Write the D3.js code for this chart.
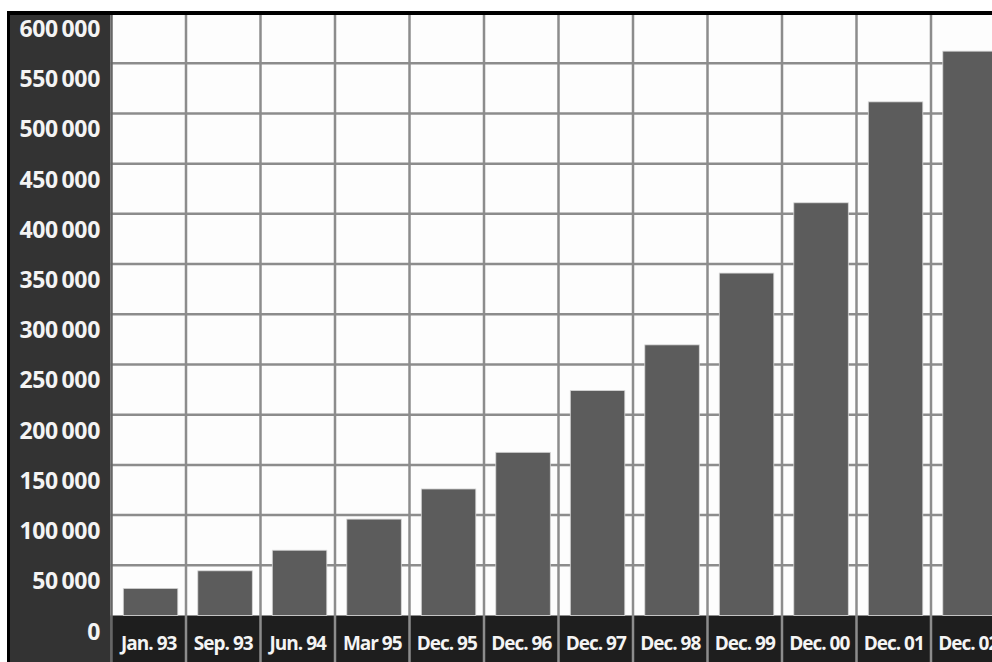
<!DOCTYPE html>
<html>
<head>
<meta charset="utf-8">
<script src="https://cdn.jsdelivr.net/npm/d3@7"></script>
<style>
  html, body { margin: 0; padding: 0; background: #fff; overflow: hidden; }
  svg { display: block; }
  .tick-label { font-family: "Open Sans", "DejaVu Sans Condensed", sans-serif; font-weight: 700; fill: #f4f4f4; }
</style>
</head>
<body>
<div id="chart"></div>
<script>
// Data
const categories = ["Jan. 93", "Sep. 93", "Jun. 94", "Mar 95", "Dec. 95", "Dec. 96",
                    "Dec. 97", "Dec. 98", "Dec. 99", "Dec. 00", "Dec. 01", "Dec. 02"];
const values = [27000, 44500, 65000, 96000, 126000, 162500,
                224000, 269500, 341000, 411000, 511500, 562000];
const yTicks = [0, 50000, 100000, 150000, 200000, 250000, 300000,
                350000, 400000, 450000, 500000, 550000, 600000];
const yTickLabels = ["0", "50\u2009000", "100\u2009000", "150\u2009000", "200\u2009000",
                     "250\u2009000", "300\u2009000", "350\u2009000", "400\u2009000",
                     "450\u2009000", "500\u2009000", "550\u2009000", "600\u2009000"];

const width = 992, height = 662;
const plotLeft = 110.5, bandW = 74.5;
const plotTop = 13, plotBottom = 615.5;

const svg = d3.select("#chart")
  .append("svg")
  .attr("width", width)
  .attr("height", height);

// scales
const xScale = d3.scaleBand()
  .domain(categories)
  .range([plotLeft, plotLeft + bandW * categories.length])
  .paddingInner(0).paddingOuter(0);

const yScale = d3.scaleLinear()
  .domain([0, 600000])
  .range([plotBottom, plotTop]);

// frame: left panel, plot area, bottom label band
svg.append("rect").attr("x", 10).attr("y", 15).attr("width", plotLeft - 10).attr("height", height - 15).attr("fill", "#333333");
svg.append("rect").attr("x", plotLeft).attr("y", 15).attr("width", width - plotLeft).attr("height", plotBottom - 15).attr("fill", "#fdfdfd");
svg.append("rect").attr("x", plotLeft).attr("y", plotBottom).attr("width", width - plotLeft).attr("height", height - plotBottom).attr("fill", "#1e1e1e");

// horizontal grid
svg.append("g")
  .selectAll("line")
  .data(yTicks.filter(t => t > 0 && t < 600000))
  .join("line")
    .attr("x1", plotLeft).attr("x2", width)
    .attr("y1", d => yScale(d)).attr("y2", d => yScale(d))
    .attr("stroke", "#8c8c8c").attr("stroke-width", 2.5);

// vertical grid at band edges (runs through the label band)
svg.append("g")
  .selectAll("line")
  .data(categories)
  .join("line")
    .attr("x1", d => xScale(d) + 1).attr("x2", d => xScale(d) + 1)
    .attr("y1", 15).attr("y2", height)
    .attr("stroke", d => d === categories[0] ? "#666" : "#8c8c8c")
    .attr("stroke-width", 2.5);

// bars
svg.append("g")
  .selectAll("rect")
  .data(values)
  .join("rect")
    .attr("x", (d, i) => xScale(categories[i]) + 12.8)
    .attr("width", 54.5)
    .attr("y", d => yScale(d))
    .attr("height", d => plotBottom - yScale(d))
    .attr("fill", "#5c5c5c")
    .attr("stroke", "#d6d6d6")
    .attr("stroke-width", 0.8);

// y labels, sitting just under their grid line
svg.append("g")
  .selectAll("text")
  .data(yTicks)
  .join("text")
    .attr("class", "tick-label")
    .attr("x", 100)
    .attr("y", d => yScale(d) + 24)
    .attr("text-anchor", "end")
    .attr("font-size", 23)
    .attr("letter-spacing", -0.3)
    .text((d, i) => yTickLabels[i]);

// x labels (condensed look)
svg.append("g")
  .selectAll("text")
  .data(categories)
  .join("text")
    .attr("class", "tick-label")
    .attr("x", d => xScale(d) + xScale.bandwidth() / 2 + 1)
    .attr("y", 650)
    .attr("text-anchor", "middle")
    .attr("font-size", 19)
    .attr("letter-spacing", -1)
    .text(d => d);

// black border top and left
svg.append("rect").attr("x", 7).attr("y", 11).attr("width", width - 7).attr("height", 4).attr("fill", "#000");
svg.append("rect").attr("x", 7).attr("y", 11).attr("width", 3).attr("height", height - 11).attr("fill", "#000");
</script>
</body>
</html>
